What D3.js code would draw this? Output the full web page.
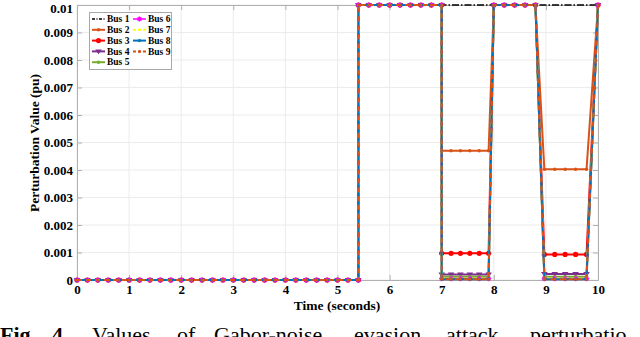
<!DOCTYPE html>
<html><head><meta charset="utf-8">
<script src="https://cdn.jsdelivr.net/npm/d3@7"></script>
<style>body{margin:0;background:#fff;}svg{display:block;}</style>
</head><body>
<svg id="chart" width="640" height="337"></svg>
<script>
// ---------- data ----------
const time = [0,0.2,0.4,0.6,0.8,1.0,1.2,1.4,1.6,1.8,2.0,2.2,2.4,2.6,2.8,3.0,3.2,3.4,3.6,3.8,4.0,4.2,4.4,4.6,4.8,5.0,5.2,5.4,
  5.4,5.6,5.8,6.0,6.2,6.4,6.6,6.8,7.0,
  7.0,7.18,7.36,7.54,7.72,7.9,
  8.0,8.2,8.4,8.6,8.8,
  8.97,9.17,9.37,9.57,9.78,
  10.0];
const Z28 = [0,0,0,0,0,0,0,0,0,0,0,0,0,0,0,0,0,0,0,0,0,0,0,0,0,0,0,0];
const bus1 = Z28.concat([0.01,0.01,0.01,0.01,0.01,0.01,0.01,0.01,0.01, 0.01,0.01,0.01,0.01,0.01,0.01, 0.01,0.01,0.01,0.01,0.01, 0.01,0.01,0.01,0.01,0.01, 0.01]);
const bus2 = Z28.concat([0.01,0.01,0.01,0.01,0.01,0.01,0.01,0.01,0.01, 0.0047,0.0047,0.0047,0.0047,0.0047,0.0047, 0.01,0.01,0.01,0.01,0.01, 0.00403,0.00403,0.00403,0.00403,0.00403, 0.01]);
const bus3 = Z28.concat([0.01,0.01,0.01,0.01,0.01,0.01,0.01,0.01,0.01, 0.00097,0.00097,0.00097,0.00097,0.00097,0.00097, 0.01,0.01,0.01,0.01,0.01, 0.00093,0.00093,0.00093,0.00093,0.00093, 0.01]);
const bus4 = Z28.concat([0.01,0.01,0.01,0.01,0.01,0.01,0.01,0.01,0.01, 0.0002,0.0002,0.0002,0.0002,0.0002,0.0002, 0.01,0.01,0.01,0.01,0.01, 0.00022,0.00022,0.00022,0.00022,0.00022, 0.01]);
const bus5 = Z28.concat([0.01,0.01,0.01,0.01,0.01,0.01,0.01,0.01,0.01, 0.00012,0.00012,0.00012,0.00012,0.00012,0.00012, 0.01,0.01,0.01,0.01,0.01, 0.00012,0.00012,0.00012,0.00012,0.00012, 0.01]);
const bus6 = Z28.concat([0.01,0.01,0.01,0.01,0.01,0.01,0.01,0.01,0.01, 0.00005,0.00005,0.00005,0.00005,0.00005,0.00005, 0.01,0.01,0.01,0.01,0.01, 0.00005,0.00005,0.00005,0.00005,0.00005, 0.01]);
const bus7 = Z28.concat([0.01,0.01,0.01,0.01,0.01,0.01,0.01,0.01,0.01, 0.00005,0.00005,0.00005,0.00005,0.00005,0.00005, 0.01,0.01,0.01,0.01,0.01, 0.00005,0.00005,0.00005,0.00005,0.00005, 0.01]);
const bus8 = Z28.concat([0.01,0.01,0.01,0.01,0.01,0.01,0.01,0.01,0.01, 0.00003,0.00003,0.00003,0.00003,0.00003,0.00003, 0.01,0.01,0.01,0.01,0.01, 0.00003,0.00003,0.00003,0.00003,0.00003, 0.01]);
const bus9 = Z28.concat([0.01,0.01,0.01,0.01,0.01,0.01,0.01,0.01,0.01, 0.00003,0.00003,0.00003,0.00003,0.00003,0.00003, 0.01,0.01,0.01,0.01,0.01, 0.00003,0.00003,0.00003,0.00003,0.00003, 0.01]);
const seriesNames = ["Bus 1","Bus 2","Bus 3","Bus 4","Bus 5","Bus 6","Bus 7","Bus 8","Bus 9"];
const seriesValues = [bus1,bus2,bus3,bus4,bus5,bus6,bus7,bus8,bus9];
const xTicks = [0,1,2,3,4,5,6,7,8,9,10];
const yTicks = [0,0.001,0.002,0.003,0.004,0.005,0.006,0.007,0.008,0.009,0.01];
const yTickLabels = ["0","0.001","0.002","0.003","0.004","0.005","0.006","0.007","0.008","0.009","0.01"];

// ---------- styles ----------
const styles = [
  {color:"#000000", dash:"7,2,1.5,2", width:1.6, marker:"none"},
  {color:"#D95319", dash:null, width:2, marker:"circle", r:1.7},
  {color:"#FF0000", dash:null, width:2, marker:"circle", r:2.6},
  {color:"#7E2F8E", dash:null, width:2, marker:"tri", r:3.3},
  {color:"#77AC30", dash:null, width:2, marker:"circle", r:1.8},
  {color:"#FF00FF", dash:null, width:1.5, marker:"star", r:2.6},
  {color:"#FFFF00", dash:"5,3", width:2, marker:"none"},
  {color:"#0072BD", dash:null, width:2, marker:"circle", r:1.6},
  {color:"#D95319", dash:"5,4", width:2, marker:"circle", r:1.5}
];

const svg = d3.select("#chart");
const L = 77, R = 598, T = 5, B = 280;
const x = d3.scaleLinear().domain([0,10]).range([L,R]);
const y = d3.scaleLinear().domain([0,0.01]).range([B,T]);
const font = "'Liberation Serif','Times New Roman',serif";
const axisCol = "#b0b0b0";

// grid
const g = svg.append("g");
g.selectAll(".gx").data(xTicks).enter().append("line")
  .attr("x1",d=>x(d)).attr("x2",d=>x(d)).attr("y1",T).attr("y2",B)
  .attr("stroke","#ececec").attr("stroke-width",1);
g.selectAll(".gy").data(yTicks).enter().append("line")
  .attr("x1",L).attr("x2",R).attr("y1",d=>y(d)).attr("y2",d=>y(d))
  .attr("stroke","#ececec").attr("stroke-width",1);

// axes
function styleAxis(sel){
  sel.selectAll("path,line").attr("stroke",axisCol);
  sel.selectAll("text").attr("font-family",font).attr("font-weight","bold").attr("font-size","13px").attr("fill","#000");
}
const ax = svg.append("g").attr("transform",`translate(0,${B})`)
  .call(d3.axisBottom(x).tickValues(xTicks).tickFormat(d3.format("d")).tickSizeInner(-5).tickSizeOuter(0).tickPadding(5));
styleAxis(ax);
const axT = svg.append("g").attr("transform",`translate(0,${T})`)
  .call(d3.axisTop(x).tickValues(xTicks).tickFormat("").tickSizeInner(-5).tickSizeOuter(0));
styleAxis(axT);
const ay = svg.append("g").attr("transform",`translate(${L},0)`)
  .call(d3.axisLeft(y).tickValues(yTicks).tickFormat((d,i)=>yTickLabels[i]).tickSizeInner(-5).tickSizeOuter(0).tickPadding(4));
styleAxis(ay);
ay.selectAll(".tick text").filter(d=>d===0.01).attr("dy","0.55em");
const ayR = svg.append("g").attr("transform",`translate(${R},0)`)
  .call(d3.axisRight(y).tickValues(yTicks).tickFormat("").tickSizeInner(-5).tickSizeOuter(0));
styleAxis(ayR);

// marker helper
function drawMarker(sel, st, cx, cy){
  if(st.marker==="circle"){
    sel.append("circle").attr("cx",cx).attr("cy",cy).attr("r",st.r).attr("fill",st.color);
  } else if(st.marker==="tri"){
    const r = st.r;
    sel.append("path").attr("d",`M${cx-r},${cy-r*0.6}L${cx+r},${cy-r*0.6}L${cx},${cy+r*0.9}Z`).attr("fill",st.color);
  } else if(st.marker==="star"){
    const r = st.r;
    sel.append("path").attr("d",`M${cx-r},${cy}L${cx+r},${cy}M${cx},${cy-r}L${cx},${cy+r}M${cx-r*0.7},${cy-r*0.7}L${cx+r*0.7},${cy+r*0.7}M${cx-r*0.7},${cy+r*0.7}L${cx+r*0.7},${cy-r*0.7}`)
      .attr("stroke",st.color).attr("stroke-width",1.2).attr("fill","none");
  }
}

// series
const line = d3.line().x(d=>x(d[0])).y(d=>y(d[1]));
seriesValues.forEach((vals,i)=>{
  const st = styles[i];
  const pts = time.map((t,j)=>[t,vals[j]]);
  const sg = svg.append("g");
  sg.append("path").datum(pts).attr("d",line).attr("fill","none")
    .attr("stroke",st.color).attr("stroke-width",st.width)
    .attr("stroke-dasharray",st.dash).attr("stroke-linejoin","round");
  if(st.marker!=="none"){
    pts.forEach(p=>drawMarker(sg, st, x(p[0]), y(p[1])));
  }
});

// legend
const lg = svg.append("g");
lg.append("rect").attr("x",89.5).attr("y",12.5).attr("width",82).attr("height",57)
  .attr("fill","#fff").attr("stroke","#a8a8a8").attr("stroke-width",1);
seriesNames.forEach((name,i)=>{
  const col = i<5 ? 0 : 1;
  const row = i<5 ? i : i-5;
  const x0 = col===0 ? 92 : 133;
  const yy = 19 + row*10.8;
  const st = styles[i];
  lg.append("line").attr("x1",x0).attr("x2",x0+13).attr("y1",yy).attr("y2",yy)
    .attr("stroke",st.color).attr("stroke-width",st.width)
    .attr("stroke-dasharray", st.dash ? (i===0?"3,1.5,1,1.5":"3,2") : null);
  if(st.marker!=="none") drawMarker(lg, st, x0+6.5, yy);
  lg.append("text").attr("x",x0+15).attr("y",yy+3.2).text(name)
    .attr("font-family",font).attr("font-weight","bold").attr("font-size","9.5px").attr("fill","#000");
});

// axis titles
svg.append("text").attr("x",337).attr("y",310).attr("text-anchor","middle")
  .attr("font-family",font).attr("font-weight","bold").attr("font-size","13.5px").text("Time (seconds)");
svg.append("text").attr("transform","translate(39,143) rotate(-90)").attr("text-anchor","middle")
  .attr("font-family",font).attr("font-weight","bold").attr("font-size","13.5px").text("Perturbation Value (pu)");

// partially visible caption
const cap = svg.append("text").attr("y",342).attr("font-family",font).attr("font-size","22px").attr("fill","#000");
cap.append("tspan").attr("x",0).attr("font-weight","bold").text("Fig.");
cap.append("tspan").attr("x",52).attr("font-weight","bold").text("4.");
const capWords = ["Values","of","Gabor-noise","evasion","attack","perturbatio"];
const capX = [92,177,214,354,446,530];
capWords.forEach((w,i)=>cap.append("tspan").attr("x",capX[i]).text(w));
</script>
</body></html>
